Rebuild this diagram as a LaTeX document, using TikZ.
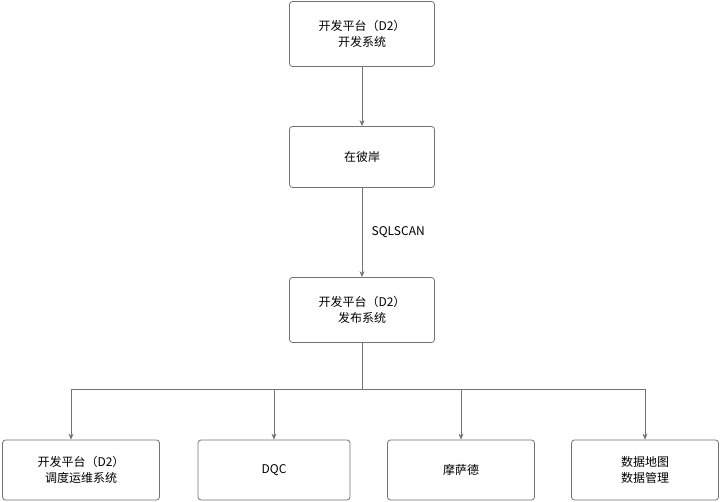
\documentclass[tikz,border=0pt]{standalone}
\usepackage{fontspec}
\setmainfont{Noto Sans CJK SC}
\usetikzlibrary{arrows.meta}
\begin{document}
\begin{tikzpicture}[x=1pt,y=-1pt,
  box/.style={draw=black!55,line width=0.8pt,rounded corners=3pt,fill=white,align=center,font=\fontsize{12}{16}\selectfont,inner sep=0pt},
  conn/.style={draw=black!55,line width=0.7pt},
  link/.style={conn,-{Stealth[length=6pt,width=5pt]}}]
\useasboundingbox (0,0) rectangle (720,502);
\node[box,minimum width=145pt,minimum height=65pt] (a) at (362,34) {开发平台（D2）\\开发系统};
\node[box,minimum width=145pt,minimum height=61pt] (b) at (362,157) {在彼岸};
\node[box,minimum width=145pt,minimum height=65pt] (c) at (362,310) {开发平台（D2）\\发布系统};
\node[box,minimum width=157pt,minimum height=60pt] (d1) at (81,470) {开发平台（D2）\\调度运维系统};
\node[box,minimum width=152pt,minimum height=60pt] (d2) at (274,470) {DQC};
\node[box,minimum width=147pt,minimum height=60pt] (d3) at (461,470) {摩萨德};
\node[box,minimum width=147pt,minimum height=60pt] (d4) at (645,470) {数据地图\\数据管理};
\draw[link] (a) -- (b);
\draw[link] (b) -- node[right=6pt,font=\fontsize{12}{14}\selectfont] {SQLSCAN} (c);
\coordinate (h) at (362,389);
\coordinate (l) at (71,389);
\draw[conn] (c) -- (h);
\draw[conn] (l) -- (d4.north |- h);
\draw[link] (l) -- (l |- d1.north);
\foreach \n in {d2,d3,d4} \draw[link] (\n.north |- h) -- (\n);
\end{tikzpicture}
\end{document}
